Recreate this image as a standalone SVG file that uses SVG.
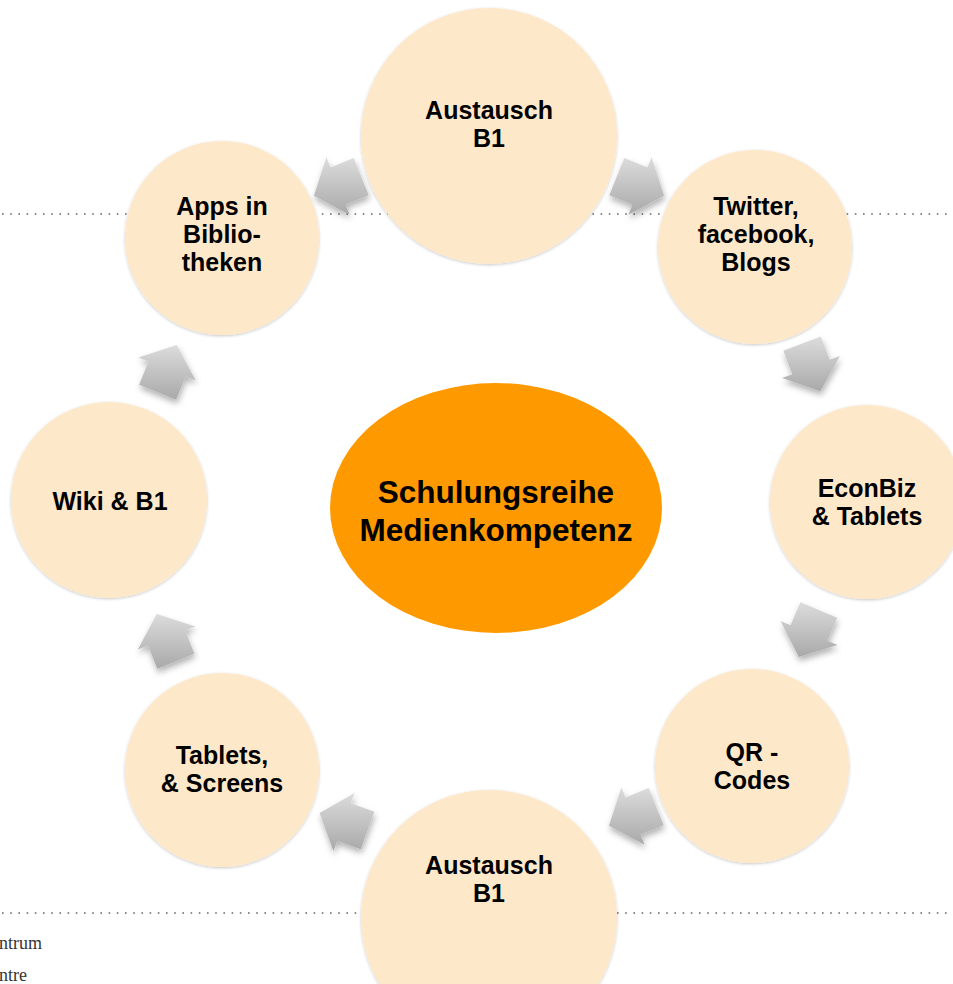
<svg xmlns="http://www.w3.org/2000/svg" width="953" height="984" viewBox="0 0 953 984">
<defs>
<style>
.node{fill:#FEE8CA;filter:url(#csh)}
.lbl{font-family:"Liberation Sans",Arial,sans-serif;font-weight:bold;font-size:25px;fill:#000;text-anchor:middle}
.big{font-family:"Liberation Sans",Arial,sans-serif;font-weight:bold;font-size:31.5px;fill:#000;text-anchor:middle}
.arr{fill:url(#ag);filter:url(#ash)}
.dots{stroke:#666;stroke-width:1.6;stroke-dasharray:1.6 6.6;fill:none}
.pg{font-family:"Liberation Serif","Times New Roman",serif;font-size:18px;fill:#333}
</style>
<linearGradient id="ag" x1="0" y1="0" x2="0" y2="1">
<stop offset="0" stop-color="#dcdcdc"/>
<stop offset="1" stop-color="#a9a9a9"/>
</linearGradient>
<filter id="ash" x="-30%" y="-30%" width="160%" height="160%">
<feDropShadow dx="1" dy="4" stdDeviation="3" flood-color="#000" flood-opacity="0.3"/>
</filter>
<filter id="csh" x="-10%" y="-10%" width="120%" height="120%">
<feDropShadow dx="0" dy="1" stdDeviation="1.5" flood-color="#000" flood-opacity="0.22"/>
</filter>
</defs>
<rect width="953" height="984" fill="#fff"/>
<g id="page">
<line class="dots" x1="2" y1="214" x2="953" y2="214"/>
<line class="dots" x1="2" y1="913" x2="953" y2="913"/>
<text class="pg" x="-1" y="949">ntrum</text>
<text class="pg" x="-1" y="981">ntre</text>
</g>
<g id="connectors">
<polygon class="arr" points="368.7,195.2 345.5,204.5 349.6,214.7 313.9,195.7 326.4,157.3 330.5,167.5 353.7,158.1"/>
<polygon class="arr" points="624.3,158.1 647.5,167.5 651.6,157.3 664.1,195.7 628.4,214.7 632.5,204.5 609.3,195.2"/>
<polygon class="arr" points="820.7,336.5 829.7,359.8 839.9,355.9 820.3,391.3 782.1,378.1 792.3,374.2 783.4,350.8"/>
<polygon class="arr" points="837.2,617.8 827.4,640.8 837.5,645.1 798.8,656.9 780.5,620.9 790.6,625.2 800.4,602.2"/>
<polygon class="arr" points="663.7,825.2 640.5,834.5 644.6,844.7 608.9,825.7 621.4,787.3 625.5,797.5 648.7,788.1"/>
<polygon class="arr" points="360.7,849.3 337.2,840.8 333.4,851.1 319.6,813.1 354.6,792.9 350.8,803.2 374.3,811.8"/>
<polygon class="arr" points="157.3,668.7 148.0,645.5 137.8,649.6 156.8,613.9 195.2,626.4 185.0,630.5 194.4,653.7"/>
<polygon class="arr" points="139.1,384.7 148.5,361.5 138.3,357.4 176.7,344.9 195.7,380.6 185.5,376.5 176.2,399.7"/>
</g>
<g id="n-top">
<circle class="node" cx="489" cy="136" r="128"/>
<text class="lbl" x="489" y="119">Austausch</text>
<text class="lbl" x="489" y="147">B1</text>
</g>
<g id="n-twitter">
<circle class="node" cx="755" cy="247" r="97"/>
<text class="lbl" x="756" y="215">Twitter,</text>
<text class="lbl" x="756" y="243">facebook,</text>
<text class="lbl" x="756" y="271">Blogs</text>
</g>
<g id="n-econbiz">
<circle class="node" cx="867" cy="502" r="97"/>
<text class="lbl" x="867" y="497">EconBiz</text>
<text class="lbl" x="867" y="525">&amp; Tablets</text>
</g>
<g id="n-qr">
<circle class="node" cx="752" cy="766" r="97"/>
<text class="lbl" x="752" y="761">QR -</text>
<text class="lbl" x="752" y="789">Codes</text>
</g>
<g id="n-bottom">
<circle class="node" cx="489" cy="918" r="128"/>
<text class="lbl" x="489" y="874">Austausch</text>
<text class="lbl" x="489" y="902">B1</text>
</g>
<g id="n-tablets">
<circle class="node" cx="222" cy="770" r="97"/>
<text class="lbl" x="222" y="764">Tablets,</text>
<text class="lbl" x="222" y="792">&amp; Screens</text>
</g>
<g id="n-wiki">
<circle class="node" cx="109" cy="500" r="98"/>
<text class="lbl" x="110" y="510">Wiki &amp; B1</text>
</g>
<g id="n-apps">
<circle class="node" cx="222" cy="238" r="97"/>
<text class="lbl" x="222" y="215">Apps in</text>
<text class="lbl" x="222" y="243">Biblio-</text>
<text class="lbl" x="222" y="271">theken</text>
</g>
<g id="n-center">
<ellipse cx="496" cy="508" rx="166" ry="125" fill="#FF9900"/>
<text class="big" x="496" y="503">Schulungsreihe</text>
<text class="big" x="496" y="541">Medienkompetenz</text>
</g>
</svg>
